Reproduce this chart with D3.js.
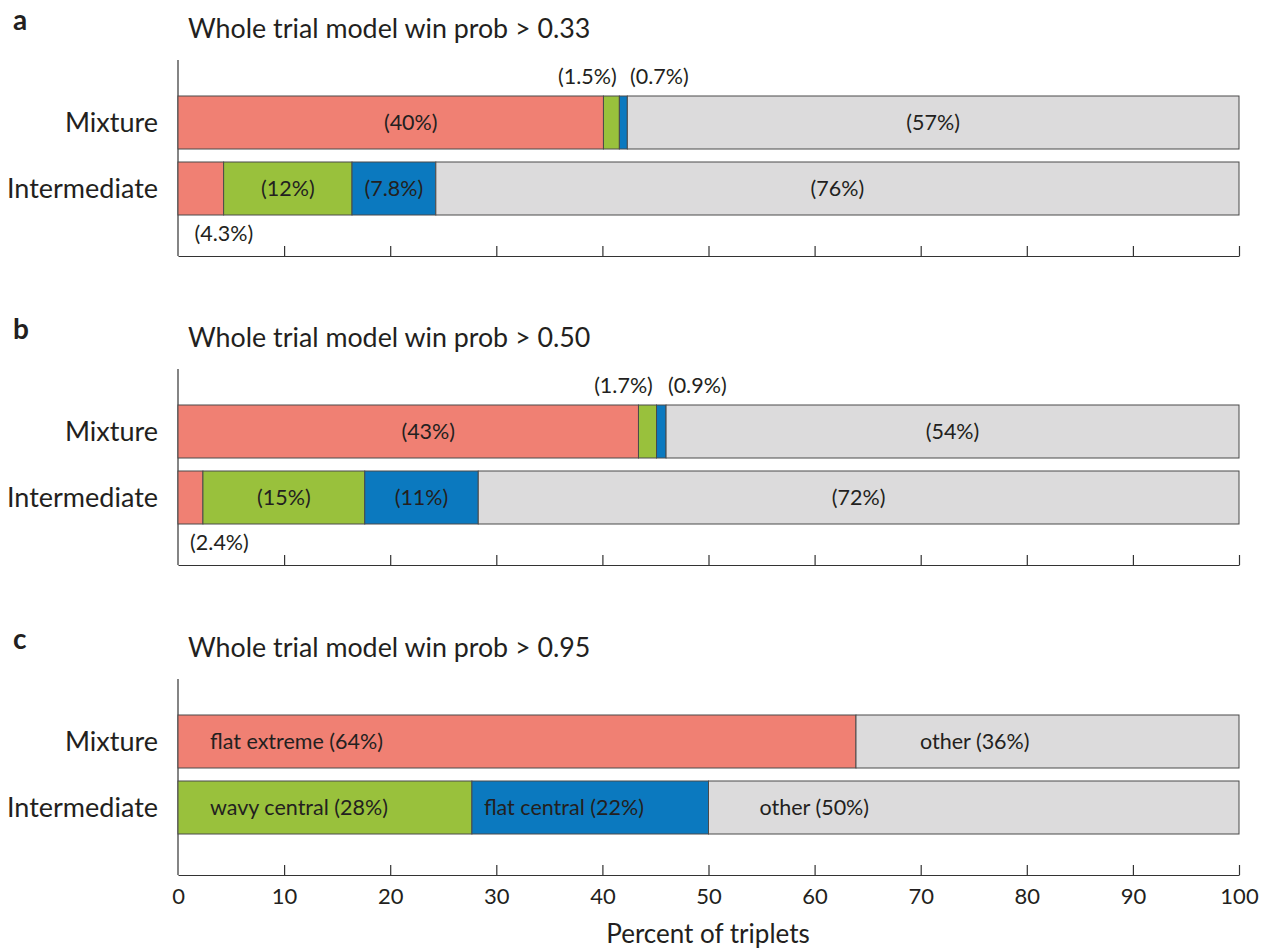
<!DOCTYPE html>
<html><head><meta charset="utf-8">
<script src="https://cdn.jsdelivr.net/npm/d3@7"></script>
<style>body{margin:0;background:#fff;} text{font-family:Lato,"Open Sans",sans-serif;fill:#231f20;}</style>
</head><body><svg id="c" width="1266" height="951"></svg>
<script>
const categories = ["Mixture", "Intermediate"];
const segments = ["flat extreme", "wavy central", "flat central", "other"];
const colors = ["#f08073", "#99c13c", "#0b79bf", "#dcdbdc"];
const panelLetters = ["a", "b", "c"];
const panelTitles = ["Whole trial model win prob > 0.33", "Whole trial model win prob > 0.50", "Whole trial model win prob > 0.95"];
// values per panel: [Mixture segments], [Intermediate segments]
const panelA_mixture = [40.1, 1.5, 0.75, 57.65];
const panelA_intermediate = [4.3, 12.1, 7.9, 75.7];
const panelB_mixture = [43.4, 1.7, 0.9, 54.0];
const panelB_intermediate = [2.35, 15.25, 10.7, 71.7];
const panelC_mixture = [63.9, 0, 0, 36.1];
const panelC_intermediate = [0, 27.7, 22.3, 50.0];
const labelsA_mixture = ["(40%)", "(1.5%)", "(0.7%)", "(57%)"];
const labelsA_intermediate = ["(4.3%)", "(12%)", "(7.8%)", "(76%)"];
const labelsB_mixture = ["(43%)", "(1.7%)", "(0.9%)", "(54%)"];
const labelsB_intermediate = ["(2.4%)", "(15%)", "(11%)", "(72%)"];
const labelsC_mixture = ["flat extreme (64%)", "", "", "other (36%)"];
const labelsC_intermediate = ["", "wavy central (28%)", "flat central (22%)", "other (50%)"];
const xTicks = [0, 10, 20, 30, 40, 50, 60, 70, 80, 90, 100];
const xLabel = "Percent of triplets";

const panels = [
  {values: [panelA_mixture, panelA_intermediate], labels: [labelsA_mixture, labelsA_intermediate]},
  {values: [panelB_mixture, panelB_intermediate], labels: [labelsB_mixture, labelsB_intermediate]},
  {values: [panelC_mixture, panelC_intermediate], labels: [labelsC_mixture, labelsC_intermediate]}
];
// layout
const panelOffsets = [0, 309, 619];
const labelModes = [
  [["c","above","above","c"],["below","c","c","c"]],
  [["c","above","above","c"],["below","c","c","c"]],
  [[32,null,null,64],[null,32,12,51]]
];

const svg = d3.select("#c");
const x = d3.scaleLinear().domain([0, 100]).range([178, 1239]);
const y = d3.scaleBand().domain(categories).range([96, 215]).paddingInner(13/66).paddingOuter(0);

panels.forEach((p, pi) => {
  const g = svg.append("g").attr("transform", `translate(0,${panelOffsets[pi]})`);
  g.append("text").attr("x", 13).attr("y", 30).attr("font-size", 28).attr("font-weight", "bold").text(panelLetters[pi]);
  g.append("text").attr("x", 188).attr("y", 38).attr("font-size", 26.8).text(panelTitles[pi]);
  const ax = d3.axisBottom(x).tickValues(xTicks).tickSize(-10).tickSizeOuter(0).tickPadding(13)
    .tickFormat(pi === 2 ? d3.format("d") : () => "");
  const axg = g.append("g").attr("transform", "translate(0,256)").call(ax);
  axg.select(".domain").attr("stroke", "#333").attr("stroke-width", 1.2);
  axg.selectAll(".tick line").attr("stroke", "#333").attr("stroke-width", 1.2);
  axg.selectAll(".tick").filter(d => d === 0).select("line").remove();
  axg.selectAll(".tick text").attr("font-size", 22).attr("font-family", "Lato,sans-serif").attr("fill", "#231f20");
  g.append("line").attr("x1", x(0)).attr("x2", x(0)).attr("y1", 60).attr("y2", 256).attr("stroke", "#333").attr("stroke-width", 1.2);
  categories.forEach(c => {
    g.append("text").attr("x", 158).attr("y", y(c) + y.bandwidth()/2).attr("dy", "0.35em")
      .attr("text-anchor", "end").attr("font-size", 27).text(c);
  });
  p.values.forEach((vals, ci) => {
    const cat = categories[ci];
    let cum = 0;
    const segs = vals.map((v, si) => { const s = {x0: cum, x1: cum + v, si}; cum += v; return s; });
    segs.forEach(s => {
      if (s.x1 - s.x0 <= 0) return;
      g.append("rect").attr("x", x(s.x0)).attr("y", y(cat)).attr("width", x(s.x1) - x(s.x0)).attr("height", y.bandwidth())
        .attr("fill", colors[s.si]).attr("stroke", "#4a4a4a").attr("stroke-width", 1);
    });
    segs.forEach(s => {
      const lab = p.labels[ci][s.si];
      if (!lab) return;
      const mode = labelModes[pi][ci][s.si];
      const cx = (x(s.x0) + x(s.x1)) / 2;
      const t = g.append("text").attr("font-size", 21.5);
      if (mode === "c") {
        const adj = (s.si === 0 && ci === 0) ? 20 : 0;
        t.attr("x", cx + adj).attr("y", y(cat) + y.bandwidth()/2).attr("dy", "0.35em").attr("text-anchor", "middle");
      } else if (mode === "above") {
        const shift = s.si === 1 ? -24 : 36;
        t.attr("x", cx + shift).attr("y", y(cat) - 12).attr("text-anchor", "middle");
      } else if (mode === "below") {
        t.attr("x", cx + 23 + (pi===1?6:0)).attr("y", y(cat) + y.bandwidth() + 26).attr("text-anchor", "middle");
      } else {
        t.attr("x", x(s.x0) + mode).attr("y", y(cat) + y.bandwidth()/2).attr("dy", "0.35em").attr("text-anchor", "start");
      }
      t.attr("fill", s.si === 2 && mode !== "above" ? "#1d3a55" : "#231f20").text(lab);
    });
  });
});
svg.append("text").attr("x", 708).attr("y", 943).attr("text-anchor", "middle").attr("font-size", 26).text(xLabel);
</script></body></html>
